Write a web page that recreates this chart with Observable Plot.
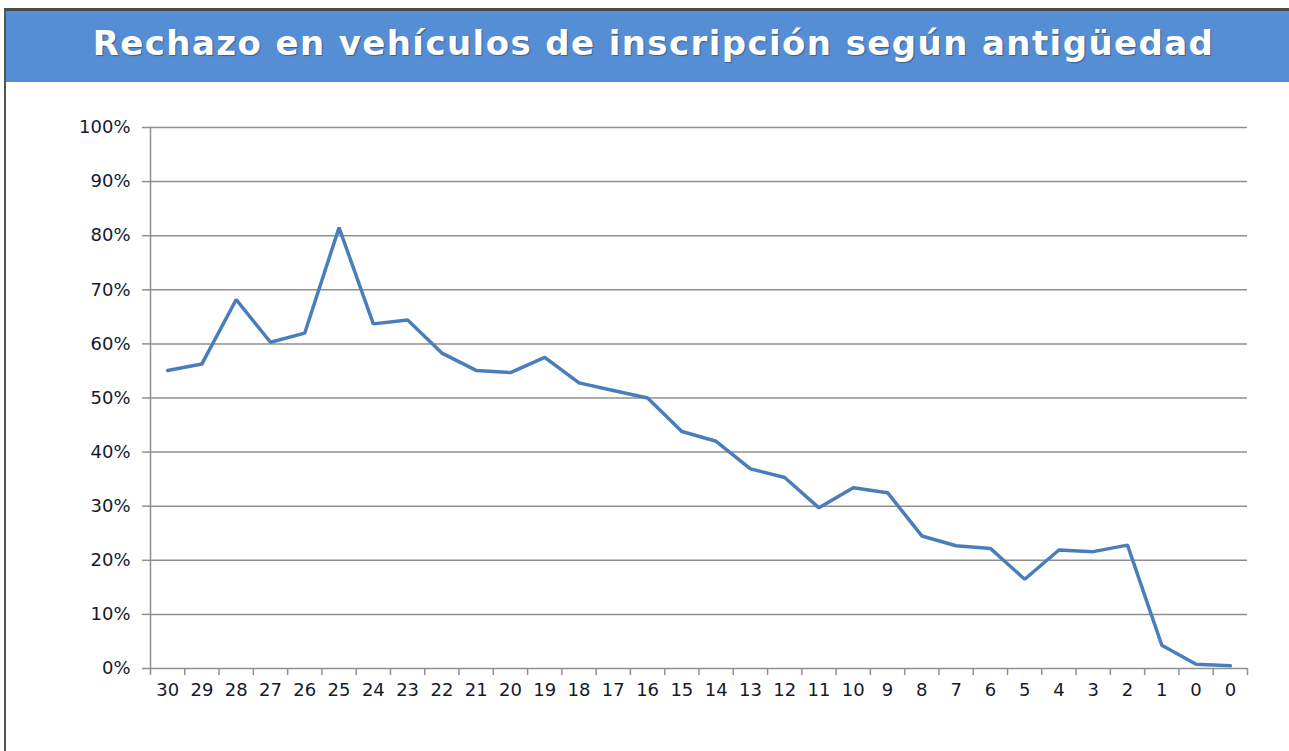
<!DOCTYPE html>
<html>
<head>
<meta charset="utf-8">
<script src="https://cdn.jsdelivr.net/npm/d3@7"></script>
<script src="https://cdn.jsdelivr.net/npm/@observablehq/plot@0.6"></script>
<style>
  html, body { margin: 0; padding: 0; background: #fff; }
  #page { position: relative; width: 1289px; height: 751px; overflow: hidden; background: #fff; }
  #frame { position: absolute; left: 4px; top: 8px; right: 0; bottom: 0; border-left: 2px solid #555; border-top: 3px solid #4a4a4a; }
  #title { position: absolute; left: 6px; top: 11px; right: 0; height: 71px; background: #558ed5;
           color: #fff; font-family: "DejaVu Sans", sans-serif; font-weight: bold; font-size: 34px; letter-spacing: 1.4px;
           display: flex; align-items: center; justify-content: center; text-shadow: 1px 1px 1px rgba(0,0,0,0.35);
           box-sizing: border-box; padding-bottom: 7px; padding-left: 12px; }
  #chart { position: absolute; left: 0; top: 82px; }
</style>
</head>
<body>
<div id="page">
  <div id="frame"></div>
  <div id="title">Rechazo en vehículos de inscripción según antigüedad</div>
  <div id="chart"></div>
</div>
<script>
const titleText = "Rechazo en vehículos de inscripción según antigüedad";
const ageLabels = ["30","29","28","27","26","25","24","23","22","21","20","19","18","17","16","15","14","13","12","11","10","9","8","7","6","5","4","3","2","1","0","0"];
const rejectPct = [55.1, 56.3, 68.2, 60.3, 62.0, 81.5, 63.7, 64.4, 58.3, 55.1, 54.7, 57.5, 52.8, 51.4, 50.0, 43.8, 42.0, 36.9, 35.3, 29.7, 33.4, 32.5, 24.5, 22.7, 22.2, 16.5, 21.9, 21.6, 22.8, 4.3, 0.8, 0.5];
const yTicks = [0, 10, 20, 30, 40, 50, 60, 70, 80, 90, 100];

const data = ageLabels.map((label, i) => ({i, label, value: rejectPct[i]}));
const idx = ageLabels.map((_, i) => i);
const bounds = ageLabels.map((_, i) => i - 0.5).concat([ageLabels.length - 0.5]);

const plot = Plot.plot({
  width: 1289,
  height: 669,
  marginLeft: 150,
  marginRight: 42,
  marginTop: 45,
  marginBottom: 83,
  style: {fontFamily: "DejaVu Sans, sans-serif", fontSize: "18px", color: "#151a2c", background: "transparent"},
  x: {type: "linear", domain: [-0.5, ageLabels.length - 0.5]},
  y: {domain: [0, 100]},
  marks: [
    Plot.gridY(yTicks, {stroke: "#8f8f8f", strokeOpacity: 1, strokeWidth: 1.5}),
    Plot.frame({anchor: "left", stroke: "#8f8f8f", strokeWidth: 1.5}),
    Plot.axisY(yTicks, {tickSize: 8, tickPadding: 12, stroke: "#8f8f8f", strokeWidth: 1.5,
      tickFormat: d => d + "%", label: null, fill: "#151a2c", style: "letter-spacing:1.5px"}),
    Plot.axisX(bounds, {tickSize: 7, stroke: "#8f8f8f", strokeWidth: 1.5, tickFormat: () => "", label: null}),
    Plot.axisX(idx, {tickSize: 0, tickPadding: 15, tickFormat: i => ageLabels[i], label: null, fill: "#151a2c", style: "letter-spacing:1.5px"}),
    Plot.line(data, {x: "i", y: "value", stroke: "#4a7ebb", strokeWidth: 3.5, strokeLinejoin: "miter"})
  ]
});
document.getElementById("chart").appendChild(plot);
</script>
</body>
</html>
